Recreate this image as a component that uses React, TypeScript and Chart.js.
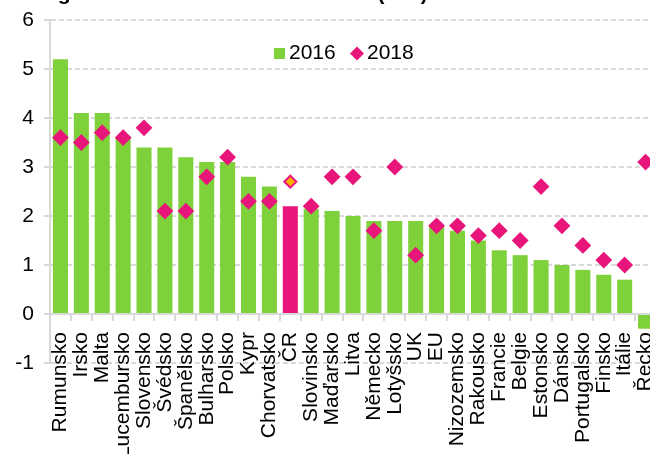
import React, { useEffect, useRef } from 'react';
import { Chart, registerables } from 'chart.js';

Chart.register(...registerables);

const categories = [
  'Rumunsko', 'Irsko', 'Malta', 'Lucembursko', 'Slovensko', 'Švédsko', 'Španělsko',
  'Bulharsko', 'Polsko', 'Kypr', 'Chorvatsko', 'ČR', 'Slovinsko', 'Maďarsko', 'Litva',
  'Německo', 'Lotyšsko', 'UK', 'EU', 'Nizozemsko', 'Rakousko', 'Francie', 'Belgie',
  'Estonsko', 'Dánsko', 'Portugalsko', 'Finsko', 'Itálie', 'Řecko',
];
const values2016 = [
  5.2, 4.1, 4.1, 3.6, 3.4, 3.4, 3.2, 3.1, 3.1, 2.8, 2.6, 2.2, 2.15, 2.1, 2.0,
  1.9, 1.9, 1.9, 1.8, 1.7, 1.5, 1.3, 1.2, 1.1, 1.0, 0.9, 0.8, 0.7, -0.3,
];
const values2018 = [
  3.6, 3.5, 3.7, 3.6, 3.8, 2.1, 2.1, 2.8, 3.2, 2.3, 2.3, 2.7, 2.2, 2.8, 2.8,
  1.7, 3.0, 1.2, 1.8, 1.8, 1.6, 1.7, 1.5, 2.6, 1.8, 1.4, 1.1, 1.0, 3.1,
];
const seriesLabels = ['2016', '2018'];
const highlightCategory = 'ČR';
const titleText = 'Regionální srovnání zemí EU 2016 (v %)';
const yMin = -1;
const yMax = 6;
const yStep = 1;

const GREEN = '#7FD13B';
const PINK = '#E8157A';
const ORANGE = '#FFB000';
const GRID = '#D9D9D9';
const FONT = "'Liberation Sans', Arial, sans-serif";

const W = 690;
const H = 484;
const SHIFT_Y = 30;

export default function App() {
  const ref = useRef<HTMLCanvasElement>(null);

  useEffect(() => {
    const canvas = ref.current!;
    const isHi = (i: number) => categories[i] === highlightCategory;

    const overlay = {
      id: 'overlay',
      afterDraw(chart: any) {
        const ctx = chart.ctx as CanvasRenderingContext2D;
        ctx.save();
        ctx.font = `bold 21px ${FONT}`;
        ctx.fillStyle = '#000';
        ctx.textAlign = 'left';
        ctx.textBaseline = 'alphabetic';
        ctx.fillText(titleText, 31, SHIFT_Y);

        ctx.font = `21px ${FONT}`;
        ctx.textBaseline = 'middle';
        const ly = SHIFT_Y + 53.5;
        ctx.fillStyle = GREEN;
        ctx.fillRect(274, ly - 5.5, 11, 11);
        ctx.fillStyle = '#000';
        ctx.fillText(seriesLabels[0], 289, ly);
        ctx.fillStyle = PINK;
        ctx.beginPath();
        ctx.moveTo(357, ly - 7);
        ctx.lineTo(364, ly);
        ctx.lineTo(357, ly + 7);
        ctx.lineTo(350, ly);
        ctx.closePath();
        ctx.fill();
        ctx.fillStyle = '#000';
        ctx.fillText(seriesLabels[1], 367, ly);
        ctx.restore();
      },
    };

    const chart = new Chart(canvas, {
      type: 'bar',
      data: {
        labels: categories,
        datasets: [
          {
            type: 'bar',
            label: seriesLabels[0],
            data: values2016,
            backgroundColor: categories.map((_, i) => (isHi(i) ? PINK : GREEN)),
            barPercentage: 0.72,
            categoryPercentage: 1,
            order: 1,
          } as any,
          {
            type: 'line',
            label: seriesLabels[1],
            data: values2018,
            showLine: false,
            pointStyle: 'rectRot',
            pointRadius: categories.map((_, i) => (isHi(i) ? 6 : 7)),
            pointBackgroundColor: categories.map((_, i) => (isHi(i) ? ORANGE : PINK)),
            pointBorderColor: PINK,
            pointBorderWidth: 2,
            order: 0,
          } as any,
        ],
      },
      options: {
        responsive: false,
        animation: false,
        devicePixelRatio: 1,
        layout: { padding: { top: 50, bottom: 91, left: 0, right: 34 } },
        plugins: {
          legend: { display: false },
          title: { display: false },
          tooltip: { enabled: false },
        },
        scales: {
          x: {
            position: { y: 0 } as any,
            offset: true,
            grid: {
              drawOnChartArea: false,
              drawTicks: true,
              tickLength: 6,
              color: GRID,
              lineWidth: 2,
              offset: true,
            },
            border: { display: true, color: GRID, width: 2 },
            ticks: {
              autoSkip: false,
              minRotation: 90,
              maxRotation: 90,
              padding: 12,
              color: '#000',
              font: { family: FONT, size: 21 },
            },
          },
          y: {
            min: yMin,
            max: yMax,
            ticks: {
              stepSize: yStep,
              padding: 10,
              color: '#000',
              font: { family: FONT, size: 21 },
            },
            grid: { color: GRID, lineWidth: 2, tickLength: 6, tickColor: GRID },
            border: { display: true, color: GRID, width: 2, dash: [5, 3] },
            afterFit: (s: any) => {
              s.width = 50;
            },
          },
        },
      } as any,
      plugins: [overlay],
    });
    return () => chart.destroy();
  }, []);

  return (
    <div style={{ position: 'fixed', left: 0, top: -SHIFT_Y, width: W, height: H }}>
      <canvas ref={ref} width={W} height={H} style={{ display: 'block' }} />
    </div>
  );
}
